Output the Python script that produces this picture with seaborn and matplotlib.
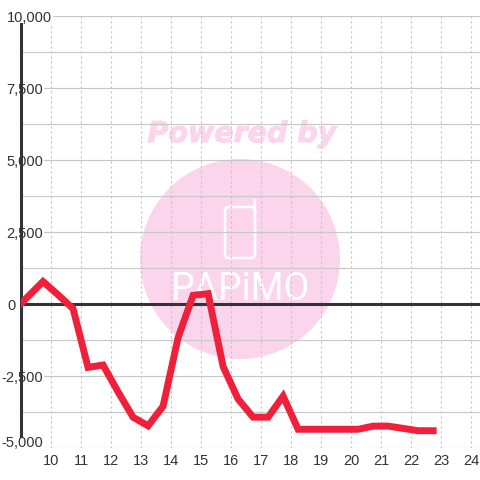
import matplotlib
matplotlib.use("Agg")
import matplotlib.pyplot as plt
import matplotlib.patheffects as pe
from matplotlib.patches import Circle, FancyBboxPatch
from matplotlib.transforms import ScaledTranslation
from matplotlib.ticker import MultipleLocator
import pandas as pd
import seaborn as sns

hours = [9.0, 9.75, 10.25, 10.75, 11.25, 11.75, 12.25, 12.75, 13.25, 13.75, 14.25, 14.75,
         15.25, 15.75, 16.25, 16.75, 17.25, 17.75, 18.25, 18.75, 19.25, 19.75, 20.25,
         20.75, 21.25, 21.75, 22.25, 22.75]
values = [0, 780, 320, -160, -2200, -2120, -3050, -3930, -4230, -3550, -1170, 300,
          360, -2170, -3300, -3930, -3930, -3200, -4350, -4350, -4350, -4350, -4350,
          -4240, -4240, -4320, -4400, -4400]
x_ticks = list(range(10, 25))
y_ticks = [-5000, -2500, 0, 2500, 5000, 7500, 10000]
y_labels = ["-5,000", "-2,500", "0", "2,500", "5,000", "7,500", "10,000"]
watermark_top = "Powered by"
watermark_logo = "PAPiMO"

sns.set_theme(style="white")
plt.rcParams["font.family"] = ["Liberation Sans", "DejaVu Sans"]

PINK = "#FBD5EC"
TEXT = "#333333"
px = 1 / 100
fig = plt.figure(figsize=(4.8, 4.8), dpi=100, facecolor="white")
ax = fig.add_axes([20.5 / 480, 32 / 480, 459.5 / 480, 432 / 480])
ax.set_facecolor("none")

def P(x, y):
    return (x * px, (480 - y) * px)

tr = fig.dpi_scale_trans
fig.add_artist(Circle(P(240, 259), 100 * px, transform=tr, fc=PINK, ec="none", zorder=-5))
fig.add_artist(FancyBboxPatch(P(225, 258), 30 * px, 51 * px, boxstyle=f"round,pad=0,rounding_size={4*px}",
                              transform=tr, fc="none", ec="white", lw=1.8, zorder=-4))
fig.add_artist(FancyBboxPatch(P(253.5, 212), 2.6 * px, 13 * px, boxstyle=f"round,pad=0,rounding_size={1*px}",
                              transform=tr, fc="white", ec="none", zorder=-4))
fig.text(242 / 480, 1 - 134 / 480, watermark_top, color=PINK, fontsize=20.5, ha="center", va="center",
         family="DejaVu Sans", weight="bold", style="italic", zorder=-4,
         path_effects=[pe.withStroke(linewidth=0.8, foreground=PINK)])
fig.text(240 / 480, 1 - 289 / 480, watermark_logo, color="white", fontsize=27, ha="center", va="center",
         family="Roboto", weight="normal", zorder=-4)

ax.set_xlim(9, 24.31)
ax.set_ylim(-5000, 10000)
ax.set_xticks(x_ticks)
ax.set_yticks(y_ticks)
ax.set_yticklabels(y_labels)
ax.yaxis.set_minor_locator(MultipleLocator(1250))
ax.grid(True, axis="y", which="both", color="#C8C8C8", lw=0.85)
ax.grid(True, axis="x", which="major", color="#C4C4C4", lw=0.8, ls=(0, (2, 2.5)))
ax.set_axisbelow(True)
ax.tick_params(axis="both", which="both", length=0)
ax.tick_params(axis="x", labelsize=10.5, labelcolor=TEXT, pad=4.2)
ax.tick_params(axis="y", labelsize=10.5, labelcolor=TEXT, pad=10)

for side in ("top", "right", "bottom"):
    ax.spines[side].set_visible(False)
ax.spines["left"].set_color(TEXT)
ax.spines["left"].set_linewidth(2.2)
ax.spines["left"].set_bounds(-4580, 9720)
ax.spines["left"].set_zorder(1)
ax.axhline(0, color=TEXT, lw=2.2, zorder=1.5)

for lab in ax.get_xticklabels():
    lab.set_transform(lab.get_transform() + ScaledTranslation(0.7 / 100, 0, tr))

for lab, val in zip(ax.get_yticklabels(), y_ticks):
    lab.set_ha("left")
    lab.set_bbox(dict(fc="white", ec="none", pad=0.6))
    dx, dy = 0, -0.5
    if val < 0:
        dx = -5
    if val == 0:
        dx = 1
    if val == -5000:
        dy = 6.5
    lab.set_transform(lab.get_transform() + ScaledTranslation(dx / 100, dy / 100, tr))

df = pd.DataFrame({"hour": hours, "value": values})
sns.lineplot(data=df, x="hour", y="value", ax=ax, color="#F0203A", lw=5, errorbar=None,
             solid_joinstyle="miter", solid_capstyle="projecting", zorder=3)
ax.set_xlabel("")
ax.set_ylabel("")

fig.savefig("out.png", dpi=100, facecolor="white")
